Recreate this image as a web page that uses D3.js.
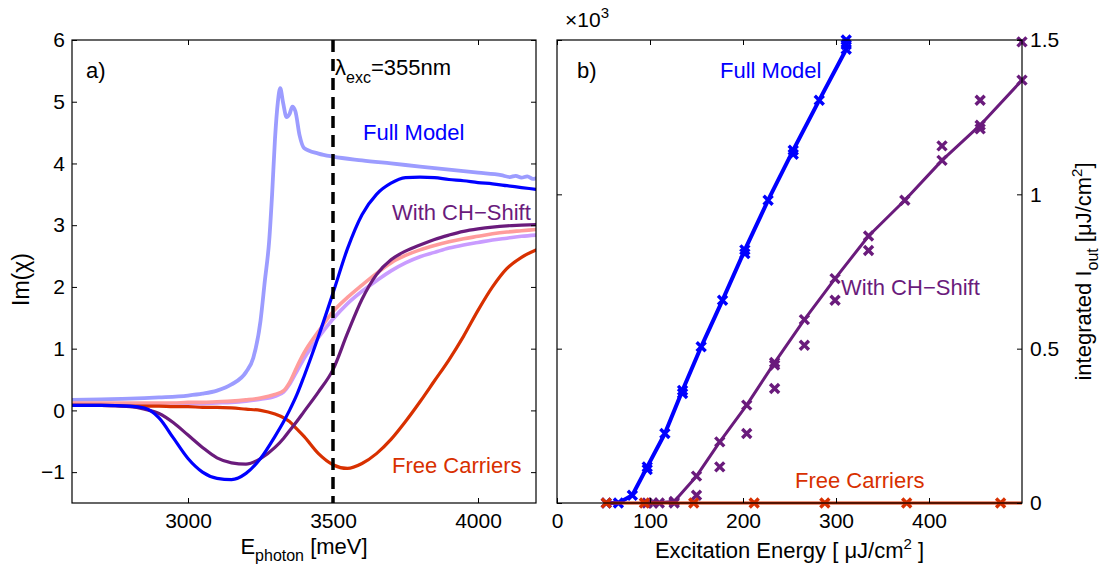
<!DOCTYPE html>
<html>
<head>
<meta charset="utf-8">
<script src="https://cdn.jsdelivr.net/npm/d3@7"></script>
<style>
  body { margin: 0; background: #fff; }
  svg { display: block; font-family: "Liberation Sans", Arial, Helvetica, sans-serif; }
</style>
</head>
<body>
<svg id="chart" width="1107" height="572"></svg>
<script>
// ---------- panel a) : Im(chi) spectra ----------
const energyGrid = [2600,2700,2800,2850,2900,2950,3000,3050,3100,3150,3200,3250,3300,3330,3350,3375,3400,3450,3500,3550,3600,3650,3700,3750,3800,3850,3900,3950,4000,4050,4100,4150,4200];

const specFullModel = [0.08,0.08,0.07,0.04,-0.12,-0.45,-0.78,-1.0,-1.1,-1.12,-1.02,-0.78,-0.42,-0.18,0.0,0.25,0.55,1.2,1.9,2.62,3.17,3.5,3.68,3.77,3.78,3.77,3.74,3.72,3.69,3.67,3.64,3.61,3.58];
const specCHShift   = [0.08,0.08,0.06,0.02,-0.05,-0.2,-0.4,-0.6,-0.77,-0.85,-0.87,-0.78,-0.6,-0.45,-0.33,-0.18,-0.02,0.3,0.66,1.25,1.8,2.2,2.44,2.58,2.68,2.77,2.84,2.9,2.94,2.97,2.99,3.0,3.01];
const specPink      = [0.12,0.12,0.12,0.12,0.12,0.12,0.13,0.13,0.14,0.15,0.17,0.2,0.26,0.32,0.45,0.7,0.93,1.28,1.6,1.83,2.03,2.22,2.39,2.51,2.6,2.67,2.73,2.78,2.82,2.86,2.89,2.91,2.93];
const specLavender  = [0.1,0.1,0.1,0.1,0.1,0.11,0.11,0.11,0.12,0.13,0.15,0.18,0.23,0.3,0.42,0.63,0.84,1.18,1.48,1.73,1.93,2.1,2.26,2.39,2.49,2.56,2.63,2.68,2.72,2.76,2.79,2.82,2.84];
const specFreeCarr  = [0.08,0.08,0.07,0.07,0.07,0.06,0.06,0.05,0.05,0.04,0.02,0.0,-0.06,-0.12,-0.18,-0.3,-0.42,-0.7,-0.88,-0.94,-0.86,-0.7,-0.47,-0.18,0.14,0.48,0.82,1.2,1.62,2.0,2.3,2.48,2.6];

// bare-exciton spectrum (needs a finer grid around the resonance)
const energyExciton = [2600,2700,2800,2900,3000,3050,3100,3150,3200,3225,3250,3265,3280,3290,3300,3310,3318,3328,3340,3350,3360,3370,3385,3400,3450,3500,3600,3700,3800,3900,4000,4080,4110,4130,4150,4170,4190,4200];
const specExciton    = [0.17,0.18,0.19,0.21,0.24,0.27,0.32,0.42,0.62,0.85,1.45,2.1,2.75,3.5,4.4,5.0,5.22,4.98,4.75,4.8,4.92,4.85,4.45,4.25,4.16,4.11,4.05,4.0,3.95,3.9,3.85,3.81,3.78,3.8,3.77,3.79,3.75,3.76];

const excitationLine = 3500;
const leftXTicks = [3000, 3500, 4000];
const leftYTicks = [-1, 0, 1, 2, 3, 4, 5, 6];

// ---------- panel b) : integrated output vs excitation ----------
const fullX = [53,66,81,97,116,135,155,178,202,227,254,282,311];
const fullY = [0,0,25,117,225,365,506,657,820,981,1143,1305,1470];
const fullExtraX = [311,311,202,97,254,135];
const fullExtraY = [1500,1485,808,108,1130,355];

const chX = [103,126,150,175,204,234,266,299,335,374,414,455,500];
const chY = [0,5,87,198,317,455,594,727,865,981,1110,1224,1370];
const chRunX = [97,110,126,150,175,204,234,234,266,299,335,414,455,500,455];
const chRunY = [0,0,0,25,117,225,371,447,511,657,818,1157,1305,1494,1212];

const freeX = [53,94,147,212,288,376,477];
const freeY = [0,0,0,0,0,0,0];
const freeLineEnd = 500;

const rightXTicks = [0, 100, 200, 300, 400];
const rightYTicks = [0, 500, 1000, 1500];

// ---------- colours ----------
const C = {
  full: "#0000ff",
  ch: "#6a1b7c",
  free: "#d83000",
  exciton: "#9c9cff",
  pink: "#ff9c9c",
  lavender: "#c99cff"
};

const svg = d3.select("#chart");
svg.append("rect").attr("width", 1107).attr("height", 572).attr("fill", "#fff");

const TICK_FONT = 21, LABEL_FONT = 22;

function frame(g, x0, y0, x1, y1) {
  g.append("rect").attr("x", x0).attr("y", y0).attr("width", x1 - x0).attr("height", y1 - y0)
    .attr("fill", "none").attr("stroke", "#000").attr("stroke-width", 1.2);
}

function styleAxis(sel) {
  sel.select(".domain").remove();
  sel.selectAll("line").attr("stroke", "#000").attr("stroke-width", 1);
  sel.selectAll("text").attr("font-size", TICK_FONT).attr("fill", "#000")
    .attr("font-family", "'Liberation Sans', Arial, sans-serif");
}

// ===== panel a =====
const A = { x0: 72, x1: 536, y0: 40, y1: 503 };
const xa = d3.scaleLinear().domain([2600, 4200]).range([A.x0, A.x1]);
const ya = d3.scaleLinear().domain([-1.5, 6]).range([A.y1, A.y0]);

const ga = svg.append("g");
ga.append("clipPath").attr("id", "clipA").append("rect")
  .attr("x", A.x0).attr("y", A.y0).attr("width", A.x1 - A.x0).attr("height", A.y1 - A.y0);

const lineA = d3.line().x(d => xa(d[0])).y(d => ya(d[1])).curve(d3.curveMonotoneX);
const plotA = ga.append("g").attr("clip-path", "url(#clipA)");

const seriesA = [
  { e: energyExciton, v: specExciton, c: C.exciton, w: 3.8 },
  { e: energyGrid, v: specLavender, c: C.lavender, w: 3.6 },
  { e: energyGrid, v: specPink, c: C.pink, w: 3.6 },
  { e: energyGrid, v: specFreeCarr, c: C.free, w: 3.2 },
  { e: energyGrid, v: specCHShift, c: C.ch, w: 3.2 },
  { e: energyGrid, v: specFullModel, c: C.full, w: 3.2 }
];
seriesA.forEach(s => {
  plotA.append("path")
    .datum(s.e.map((e, i) => [e, s.v[i]]))
    .attr("d", lineA).attr("fill", "none").attr("stroke", s.c)
    .attr("stroke-width", s.w).attr("stroke-linejoin", "round").attr("stroke-linecap", "round");
});

// excitation wavelength marker
plotA.append("line")
  .attr("x1", xa(excitationLine)).attr("x2", xa(excitationLine))
  .attr("y1", A.y0).attr("y2", A.y1)
  .attr("stroke", "#000").attr("stroke-width", 3.5).attr("stroke-dasharray", "12,7");

// axes a
ga.append("g").attr("transform", `translate(0,${A.y1})`)
  .call(d3.axisBottom(xa).tickValues(leftXTicks).tickFormat(d3.format("d")).tickSizeInner(-5).tickSizeOuter(0).tickPadding(10))
  .call(styleAxis);
ga.append("g").attr("transform", `translate(0,${A.y0})`)
  .call(d3.axisTop(xa).tickValues(leftXTicks).tickFormat("").tickSizeInner(-5).tickSizeOuter(0))
  .call(styleAxis);
ga.append("g").attr("transform", `translate(${A.x0},0)`)
  .call(d3.axisLeft(ya).tickValues(leftYTicks).tickFormat(d3.format("d")).tickSizeInner(-5).tickSizeOuter(0).tickPadding(7))
  .call(styleAxis);
ga.append("g").attr("transform", `translate(${A.x1},0)`)
  .call(d3.axisRight(ya).tickValues(leftYTicks).tickFormat("").tickSizeInner(-5).tickSizeOuter(0))
  .call(styleAxis);
frame(ga, A.x0, A.y0, A.x1, A.y1);

// annotations a
ga.append("text").attr("x", 86).attr("y", 78).attr("font-size", LABEL_FONT).text("a)");
const lam = ga.append("text").attr("x", xa(excitationLine) + 2).attr("y", 75).attr("font-size", LABEL_FONT);
lam.append("tspan").text("λ");
lam.append("tspan").attr("font-size", 16).attr("dy", 8).text("exc");
lam.append("tspan").attr("dy", -8).text("=355nm");
ga.append("text").attr("x", 363).attr("y", 140).attr("font-size", LABEL_FONT).attr("fill", C.full).text("Full Model");
ga.append("text").attr("x", 392).attr("y", 220).attr("font-size", LABEL_FONT).attr("fill", C.ch).text("With CH\u2212Shift");
ga.append("text").attr("x", 392).attr("y", 473).attr("font-size", LABEL_FONT).attr("fill", C.free).text("Free Carriers");

const xla = ga.append("text").attr("x", (A.x0 + A.x1) / 2).attr("y", 554)
  .attr("text-anchor", "middle").attr("font-size", LABEL_FONT);
xla.append("tspan").text("E");
xla.append("tspan").attr("font-size", 16).attr("dy", 7).text("photon");
xla.append("tspan").attr("dy", -7).text(" [meV]");

ga.append("text").attr("transform", `translate(29,${(A.y0 + A.y1) / 2 + 8}) rotate(-90)`)
  .attr("text-anchor", "middle").attr("font-size", 23).text("Im(χ)");

// ===== panel b =====
const B = { x0: 557, x1: 1022, y0: 40, y1: 503 };
const xb = d3.scaleLinear().domain([0, 500]).range([B.x0, B.x1]);
const yb = d3.scaleLinear().domain([0, 1500]).range([B.y1, B.y0]);
const gb = svg.append("g");

const lineB = d3.line().x(d => xb(d[0])).y(d => yb(d[1]));
const cross = "M-4.5,-4.5L4.5,4.5M-4.5,4.5L4.5,-4.5";

function drawSeries(xs, ys, color, width) {
  gb.append("path").datum(xs.map((x, i) => [x, ys[i]]))
    .attr("d", lineB).attr("fill", "none").attr("stroke", color)
    .attr("stroke-width", width).attr("stroke-linejoin", "round");
}
function drawMarks(xs, ys, color) {
  gb.append("g").selectAll("path").data(xs.map((x, i) => [x, ys[i]])).join("path")
    .attr("transform", d => `translate(${xb(d[0])},${yb(d[1])})`)
    .attr("d", cross).attr("fill", "none").attr("stroke", color).attr("stroke-width", 3.4);
}

drawSeries(fullX, fullY, C.full, 4);
drawMarks(fullX, fullY, C.full);
drawMarks(fullExtraX, fullExtraY, C.full);

drawSeries(chX, chY, C.ch, 3);
drawMarks(chX, chY, C.ch);
drawMarks(chRunX, chRunY, C.ch);

drawSeries([freeX[0], freeLineEnd], [freeY[0], freeY[freeY.length - 1]], C.free, 3.2);
drawMarks(freeX, freeY, C.free);

// axes b
gb.append("g").attr("transform", `translate(0,${B.y1})`)
  .call(d3.axisBottom(xb).tickValues(rightXTicks).tickFormat(d3.format("d")).tickSizeInner(-5).tickSizeOuter(0).tickPadding(10))
  .call(styleAxis);
gb.append("g").attr("transform", `translate(0,${B.y0})`)
  .call(d3.axisTop(xb).tickValues(rightXTicks).tickFormat("").tickSizeInner(-5).tickSizeOuter(0))
  .call(styleAxis);
gb.append("g").attr("transform", `translate(${B.x1},0)`)
  .call(d3.axisRight(yb).tickValues(rightYTicks).tickFormat(d => d3.format("~g")(d / 1000)).tickSizeInner(-5).tickSizeOuter(0).tickPadding(8))
  .call(styleAxis);
gb.append("g").attr("transform", `translate(${B.x0},0)`)
  .call(d3.axisLeft(yb).tickValues(rightYTicks).tickFormat("").tickSizeInner(-5).tickSizeOuter(0))
  .call(styleAxis);
frame(gb, B.x0, B.y0, B.x1, B.y1);

// annotations b
gb.append("text").attr("x", 577).attr("y", 78).attr("font-size", LABEL_FONT).text("b)");
gb.append("text").attr("x", 720).attr("y", 78).attr("font-size", LABEL_FONT).attr("fill", C.full).text("Full Model");
gb.append("text").attr("x", 841).attr("y", 295).attr("font-size", LABEL_FONT).attr("fill", C.ch).text("With CH\u2212Shift");
gb.append("text").attr("x", 795).attr("y", 488).attr("font-size", LABEL_FONT).attr("fill", C.free).text("Free Carriers");

const mult = gb.append("text").attr("x", 565).attr("y", 27).attr("font-size", 21);
mult.append("tspan").text("×10");
mult.append("tspan").attr("font-size", 15).attr("dy", -9).text("3");

const xlb = gb.append("text").attr("x", (B.x0 + B.x1) / 2).attr("y", 558)
  .attr("text-anchor", "middle").attr("font-size", LABEL_FONT);
xlb.append("tspan").text("Excitation Energy [ μJ/cm");
xlb.append("tspan").attr("font-size", 15).attr("dy", -9).text("2");
xlb.append("tspan").attr("dy", 9).text(" ]");

const ylb = gb.append("text").attr("transform", `translate(1091,${(B.y0 + B.y1) / 2}) rotate(-90)`)
  .attr("text-anchor", "middle").attr("font-size", LABEL_FONT);
ylb.append("tspan").text("integrated I");
ylb.append("tspan").attr("font-size", 16).attr("dy", 7).text("out");
ylb.append("tspan").attr("dy", -7).text(" [μJ/cm");
ylb.append("tspan").attr("font-size", 15).attr("dy", -9).text("2");
ylb.append("tspan").attr("dy", 9).text("]");
</script>
</body>
</html>
